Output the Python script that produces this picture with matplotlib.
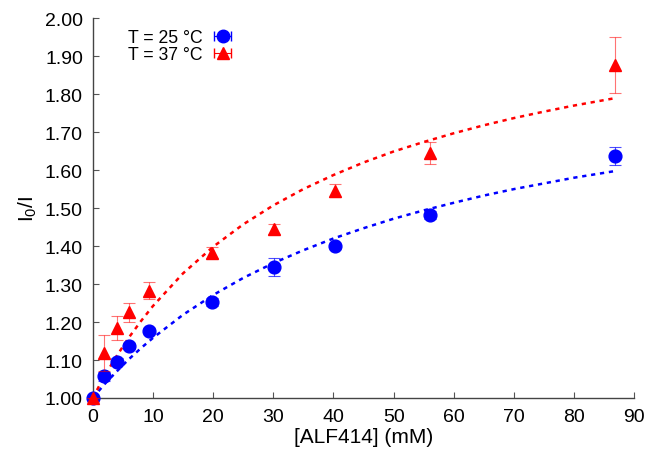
import matplotlib
matplotlib.use("Agg")
import matplotlib.pyplot as plt
import numpy as np

plt.rcParams['font.family'] = ['Liberation Sans', 'DejaVu Sans']
plt.rcParams['mathtext.fontset'] = 'custom'
plt.rcParams['mathtext.rm'] = 'Liberation Sans'
plt.rcParams['mathtext.it'] = 'Liberation Sans'

# measured data
conc = [0.0, 1.9, 4.0, 6.0, 9.3, 19.9, 30.1, 40.3, 56.1, 86.8]
ratio_25 = [1.000, 1.057, 1.096, 1.137, 1.177, 1.252, 1.345, 1.399, 1.481, 1.637]
err_25 = [0.0, 0.012, 0.008, 0.008, 0.006, 0.010, 0.024, 0.007, 0.010, 0.024]
ratio_37 = [1.000, 1.119, 1.185, 1.226, 1.283, 1.383, 1.445, 1.546, 1.646, 1.876]
err_37 = [0.0, 0.047, 0.031, 0.025, 0.022, 0.014, 0.014, 0.018, 0.029, 0.074]

# fitted curves
fit_x = [0, 2, 4, 6, 8, 10, 15, 20, 25, 30, 35, 40, 45, 50, 55, 60, 65, 70, 75, 80, 87]
fit_25 = [1.000, 1.037, 1.070, 1.102, 1.131, 1.158, 1.219, 1.271, 1.316, 1.355, 1.389,
          1.420, 1.447, 1.472, 1.494, 1.514, 1.533, 1.550, 1.565, 1.580, 1.598]
fit_37 = [1.000, 1.059, 1.111, 1.159, 1.202, 1.242, 1.328, 1.398, 1.457, 1.507, 1.550,
          1.587, 1.620, 1.649, 1.674, 1.697, 1.718, 1.737, 1.754, 1.770, 1.790]

labels = ['T = 25 °C', 'T = 37 °C']
xticks = list(range(0, 91, 10))
yticks = [1.0 + 0.1 * i for i in range(11)]

fig = plt.figure(figsize=(6.46, 4.56), dpi=100)
ax = fig.add_axes([0.1435, 0.125, 0.9820 - 0.1435, 0.958 - 0.125])

blue = '#0000ff'
red = '#ff0000'
dash = (0, (1.7, 1.9))

ax.plot(fit_x, fit_25, color=blue, lw=1.8, linestyle=dash, zorder=2)
ax.plot(fit_x, fit_37, color=red, lw=1.8, linestyle=dash, zorder=2)

ax.errorbar(conc, ratio_25, yerr=err_25, fmt='none', ecolor=blue, elinewidth=0.8,
            capsize=4, capthick=0.8, alpha=0.7, zorder=3, clip_on=False)
ax.plot(conc, ratio_25, 'o', color=blue, ms=9.2, zorder=4, clip_on=False)
ax.errorbar(conc, ratio_37, yerr=err_37, fmt='none', ecolor=red, elinewidth=0.8,
            capsize=4, capthick=0.8, alpha=0.55, zorder=5, clip_on=False)
ax.plot(conc, ratio_37, '^', color=red, ms=9.2, zorder=6, clip_on=False)

# legend proxies with horizontal error bar samples (NaN data, nothing drawn)
h1 = ax.errorbar([np.nan], [np.nan], xerr=[1], fmt='o', color=blue, ms=9,
                 ecolor=blue, elinewidth=0.8, capsize=3.5)
h2 = ax.errorbar([np.nan], [np.nan], xerr=[1], fmt='^', color=red, ms=9,
                 ecolor=red, elinewidth=0.8, capsize=3.5)
leg = ax.legend([h1, h2], labels, loc='upper left', bbox_to_anchor=(0.045, 1.0),
                frameon=False, markerfirst=False, fontsize=12.7, handlelength=1.1,
                handletextpad=0.6, labelspacing=0.0, borderaxespad=0.2)

ax.set_xlim(0, 90)
ax.set_ylim(1.0, 2.0)
ax.set_xticks(xticks)
ax.set_yticks(yticks)
ax.set_yticklabels([f'{v:.2f}' for v in yticks])
ax.tick_params(direction='in', length=4, width=0.8, color='#555555', labelsize=14,
               pad=7)
for s in ['top', 'right']:
    ax.spines[s].set_visible(False)
for s in ['left', 'bottom']:
    ax.spines[s].set_color('#444444')
    ax.spines[s].set_linewidth(1.0)

ax.set_xlabel('[ALF414] (mM)', fontsize=15, labelpad=2)
ax.set_ylabel(r'I$_0$/I', fontsize=15, labelpad=4)

fig.savefig('out.png', dpi=100)
